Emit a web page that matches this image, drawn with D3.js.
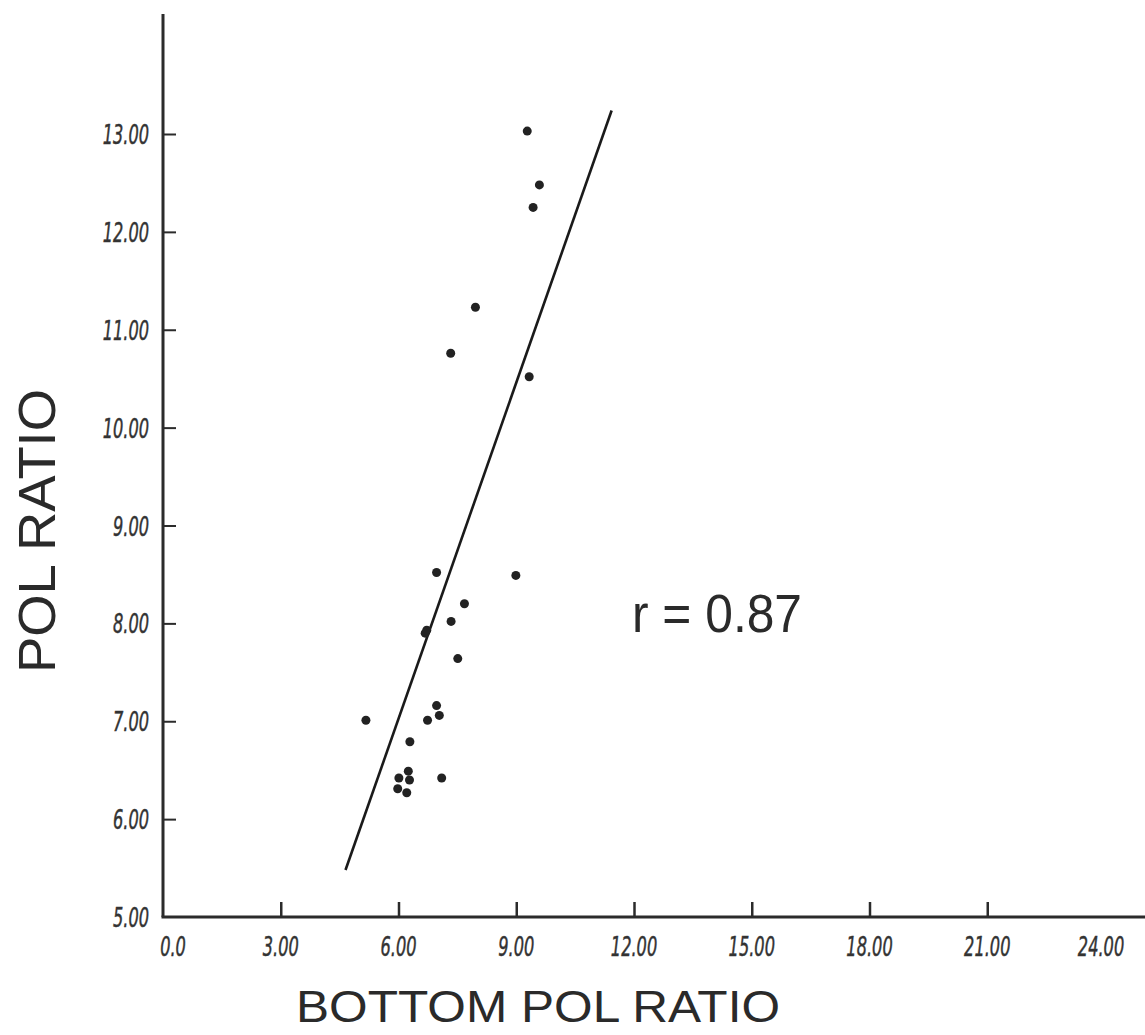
<!DOCTYPE html>
<html>
<head>
<meta charset="utf-8">
<script src="https://cdn.jsdelivr.net/npm/d3@7"></script>
<style>
  html, body { margin: 0; padding: 0; background: #ffffff; }
  svg { display: block; }
</style>
</head>
<body>
<div id="chart"></div>
<script>
// ---- data ----
const xTicks = [0, 3, 6, 9, 12, 15, 18, 21, 24];
const xTickLabels = ["0.0", "3.00", "6.00", "9.00", "12.00", "15.00", "18.00", "21.00", "24.00"];
const yTicks = [5, 6, 7, 8, 9, 10, 11, 12, 13];
const yTickLabels = ["5.00", "6.00", "7.00", "8.00", "9.00", "10.00", "11.00", "12.00", "13.00"];
const bottomPol = [9.28, 9.59, 9.43, 7.96, 7.33, 9.33, 6.97, 8.99, 7.68, 7.34, 6.68, 6.72, 7.51, 5.17, 6.97, 7.04, 6.74, 6.29, 6.25, 6.01, 6.28, 5.98, 6.21, 7.10];
const polRatio  = [13.03, 12.48, 12.25, 11.23, 10.76, 10.52, 8.52, 8.49, 8.20, 8.02, 7.90, 7.93, 7.64, 7.01, 7.16, 7.06, 7.01, 6.79, 6.49, 6.42, 6.40, 6.31, 6.27, 6.42];
const fitLineX = [4.65, 11.43];
const fitLineY = [5.48, 13.24];
const xTitle = "BOTTOM  POL  RATIO";
const yTitle = "POL  RATIO";
const rLabel = "r = 0.87";

// ---- layout ----
const W = 1145, H = 1035;
const svg = d3.select("#chart").append("svg").attr("width", W).attr("height", H);

const x = d3.scaleLinear().domain([0, 24]).range([163, 1105]);
const y = d3.scaleLinear().domain([5, 13]).range([917, 134]);

const ink = "#2b2b2b";
const tickFont = "'DejaVu Sans', sans-serif";
const sx = 0.6;

// axes lines
svg.append("line").attr("x1", x(0)).attr("x2", x(0))
  .attr("y1", 14).attr("y2", y(5)).attr("stroke", ink).attr("stroke-width", 3);
svg.append("line").attr("x1", x(0) - 1.5).attr("x2", W)
  .attr("y1", y(5)).attr("y2", y(5)).attr("stroke", ink).attr("stroke-width", 3);

// x axis ticks (upward, inside)
const xAxis = d3.axisTop(x).tickValues(xTicks.filter(d => d > 0 && d < 24))
  .tickSize(15).tickFormat("");
const gx = svg.append("g").attr("transform", `translate(0,${y(5)})`).call(xAxis);
gx.select(".domain").remove();
gx.selectAll(".tick line").attr("stroke", ink).attr("stroke-width", 2.5);

// y axis ticks (rightward, inside)
const yAxis = d3.axisRight(y).tickValues(yTicks.filter(d => d > 5))
  .tickSize(13).tickFormat("");
const gy = svg.append("g").attr("transform", `translate(${x(0)},0)`).call(yAxis);
gy.select(".domain").remove();
gy.selectAll(".tick line").attr("stroke", ink).attr("stroke-width", 2);

// x tick labels
svg.append("g").selectAll("text").data(xTicks).join("text")
  .attr("transform", (d, i) => `translate(${x(d) + (i === 0 ? 10 : 0) - (i === xTicks.length - 1 ? 4 : 0)},956) scale(${sx},1)`)
  .attr("text-anchor", "middle")
  .attr("font-family", tickFont)
  .attr("font-style", "italic")
  .attr("font-size", 27)
  .attr("fill", "#333")
  .attr("stroke", "#333").attr("stroke-width", 0.5)
  .text((d, i) => xTickLabels[i]);

// y tick labels
svg.append("g").selectAll("text").data(yTicks).join("text")
  .attr("transform", d => `translate(149,${y(d) + 10}) scale(${sx},1)`)
  .attr("text-anchor", "end")
  .attr("font-family", tickFont)
  .attr("font-style", "italic")
  .attr("font-size", 27)
  .attr("fill", "#333")
  .attr("stroke", "#333").attr("stroke-width", 0.5)
  .text((d, i) => yTickLabels[i]);

// regression line
svg.append("line")
  .attr("x1", x(fitLineX[0])).attr("y1", y(fitLineY[0]))
  .attr("x2", x(fitLineX[1])).attr("y2", y(fitLineY[1]))
  .attr("stroke", "#1a1a1a").attr("stroke-width", 2.6);

// points
svg.append("g").selectAll("circle").data(bottomPol).join("circle")
  .attr("cx", d => x(d))
  .attr("cy", (d, i) => y(polRatio[i]))
  .attr("r", 4.5)
  .attr("fill", "#222");

// titles
svg.append("text")
  .attr("x", 538).attr("y", 1022)
  .attr("text-anchor", "middle")
  .attr("font-family", "'Liberation Sans', Arial, sans-serif")
  .attr("font-size", 44)
  .attr("fill", "#2a2a2a")
  .attr("textLength", 484)
  .attr("lengthAdjust", "spacingAndGlyphs")
  .text(xTitle);

svg.append("text")
  .attr("transform", `translate(55,531) rotate(-90)`)
  .attr("text-anchor", "middle")
  .attr("font-family", "'Liberation Sans', Arial, sans-serif")
  .attr("font-size", 51)
  .attr("fill", "#2a2a2a")
  .attr("textLength", 284)
  .attr("lengthAdjust", "spacingAndGlyphs")
  .text(yTitle);

svg.append("text")
  .attr("x", 632).attr("y", 632)
  .attr("font-family", "'Liberation Sans', Arial, sans-serif")
  .attr("font-size", 54)
  .attr("fill", "#2a2a2a")
  .attr("textLength", 170)
  .attr("lengthAdjust", "spacingAndGlyphs")
  .text(rLabel);
</script>
</body>
</html>
